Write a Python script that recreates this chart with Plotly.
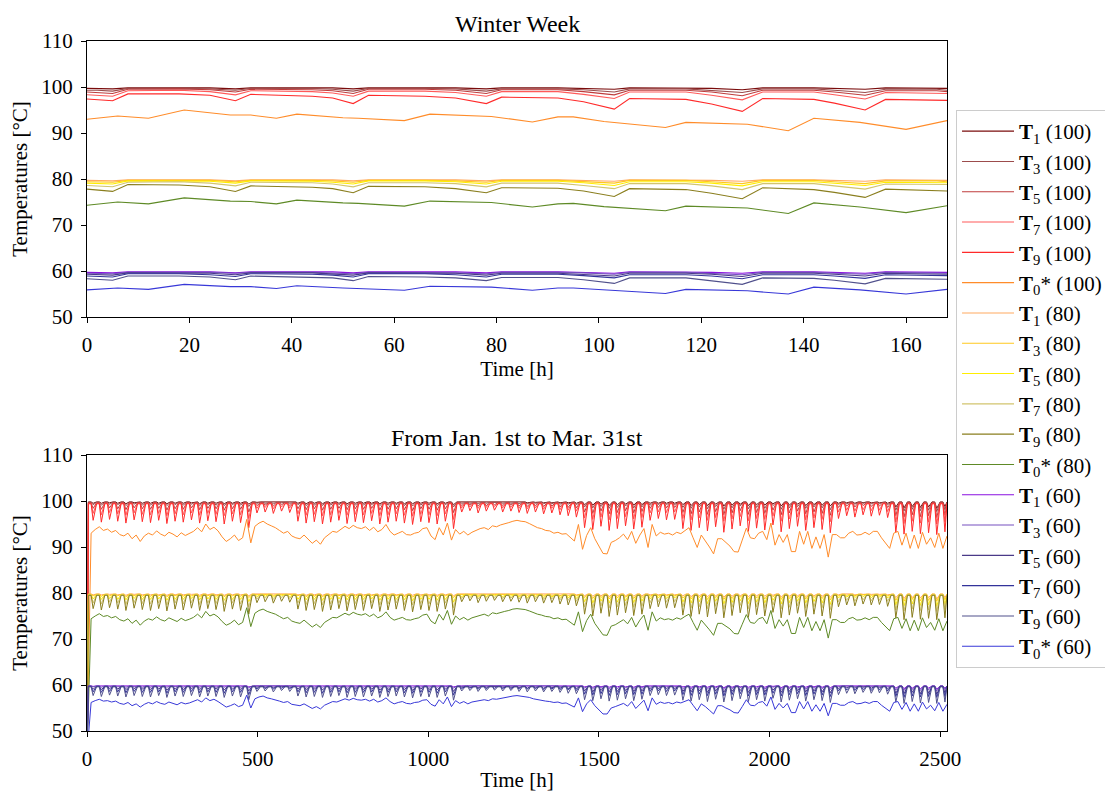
import plotly.graph_objects as go

# ===================== DATA =====================
labels = ["T1 (100)", "T3 (100)", "T5 (100)", "T7 (100)", "T9 (100)", "T0* (100)",
          "T1 (80)", "T3 (80)", "T5 (80)", "T7 (80)", "T9 (80)", "T0* (80)",
          "T1 (60)", "T3 (60)", "T5 (60)", "T7 (60)", "T9 (60)", "T0* (60)"]

# ---- Winter week (top panel) ----
week_t = [0, 2, 5, 8, 18, 24, 29, 32, 44, 48, 52, 55, 66, 72, 78, 81, 92, 97, 103, 106,
          117, 122, 128, 132, 142, 146, 152, 156, 166, 168]
week_t0 = [0, 6, 12, 19, 28, 32, 37, 41, 50, 53, 62, 67, 79, 87, 92, 95, 101, 113, 117,
           129, 137, 142, 151, 160, 168]

wk_T1_100 = [99.7, 99.7, 99.6, 99.8, 99.8, 99.8, 99.6, 99.8, 99.8, 99.8, 99.6, 99.8, 99.8, 99.8, 99.6,
             99.8, 99.8, 99.7, 99.5, 99.8, 99.8, 99.7, 99.4, 99.8, 99.8, 99.7, 99.5, 99.8, 99.8, 99.7]
wk_T3_100 = [99.3, 99.3, 99.1, 99.7, 99.7, 99.6, 99.3, 99.7, 99.7, 99.5, 99.1, 99.7, 99.7, 99.6, 99.1,
             99.6, 99.6, 99.4, 98.9, 99.6, 99.6, 99.3, 98.8, 99.6, 99.6, 99.3, 98.8, 99.5, 99.5, 99.3]
wk_T5_100 = [98.9, 98.8, 98.6, 99.5, 99.6, 99.4, 98.9, 99.5, 99.4, 99.2, 98.6, 99.5, 99.5, 99.3, 98.6,
             99.4, 99.4, 99.0, 98.3, 99.3, 99.3, 98.9, 98.1, 99.3, 99.3, 98.9, 98.2, 99.2, 99.2, 99.0]
wk_T7_100 = [98.3, 98.2, 98.0, 99.2, 99.3, 99.0, 98.3, 99.2, 99.0, 98.7, 98.0, 99.1, 99.1, 98.8, 98.0,
             99.0, 99.0, 98.4, 97.5, 98.9, 98.9, 98.2, 97.2, 98.9, 98.9, 98.3, 97.4, 98.8, 98.7, 98.6]
wk_T9_100 = [97.4, 97.3, 97.0, 98.5, 98.5, 98.2, 97.0, 98.4, 98.0, 97.6, 96.4, 98.2, 98.0, 97.6, 96.4,
             97.8, 97.6, 96.8, 95.2, 97.5, 97.3, 96.3, 94.7, 97.5, 97.3, 96.5, 95.0, 97.3, 97.1, 97.1]
wk_T0_100 = [93.0, 93.7, 93.2, 95.0, 93.9, 93.9, 93.2, 94.1, 93.3, 93.2, 92.7, 94.1, 93.6, 92.4, 93.5,
             93.5, 92.5, 91.2, 92.3, 91.9, 90.5, 93.2, 92.3, 90.8, 92.7]

wk_T1_80 = [79.7, 79.7, 79.6, 79.8, 79.8, 79.8, 79.6, 79.8, 79.8, 79.8, 79.6, 79.8, 79.8, 79.8, 79.6,
            79.8, 79.8, 79.7, 79.5, 79.8, 79.8, 79.7, 79.5, 79.8, 79.8, 79.7, 79.5, 79.8, 79.8, 79.7]
wk_T3_80 = [79.4, 79.4, 79.3, 79.7, 79.7, 79.7, 79.4, 79.7, 79.7, 79.6, 79.3, 79.7, 79.7, 79.6, 79.3,
            79.7, 79.7, 79.5, 79.1, 79.7, 79.7, 79.4, 79.0, 79.7, 79.7, 79.4, 79.0, 79.6, 79.6, 79.4]
wk_T5_80 = [79.1, 79.0, 78.9, 79.6, 79.6, 79.5, 79.1, 79.6, 79.5, 79.3, 78.9, 79.6, 79.6, 79.4, 78.9,
            79.5, 79.5, 79.2, 78.6, 79.4, 79.4, 79.1, 78.5, 79.4, 79.4, 79.1, 78.6, 79.3, 79.3, 79.2]
wk_T7_80 = [78.6, 78.5, 78.3, 79.3, 79.4, 79.1, 78.5, 79.3, 79.2, 78.9, 78.3, 79.2, 79.2, 79.0, 78.3,
            79.1, 79.1, 78.6, 77.9, 79.0, 79.0, 78.5, 77.7, 79.0, 79.0, 78.5, 77.8, 78.9, 78.9, 78.8]
wk_T9_80 = [77.8, 77.6, 77.3, 78.8, 78.7, 78.3, 77.3, 78.5, 78.2, 77.9, 77.0, 78.4, 78.3, 77.9, 77.0,
            78.1, 78.0, 77.4, 76.2, 77.9, 77.7, 76.9, 75.7, 78.1, 77.7, 77.1, 76.0, 77.8, 77.5, 77.4]
wk_T0_80 = [74.3, 75.0, 74.6, 75.9, 75.2, 75.1, 74.6, 75.4, 74.8, 74.7, 74.1, 75.2, 74.9, 73.9, 74.6,
            74.7, 74.0, 73.1, 74.1, 73.7, 72.5, 74.8, 73.9, 72.7, 74.2]

wk_T1_60 = [59.7, 59.7, 59.6, 59.8, 59.8, 59.8, 59.6, 59.8, 59.8, 59.8, 59.6, 59.8, 59.8, 59.8, 59.6,
            59.8, 59.8, 59.7, 59.5, 59.8, 59.8, 59.7, 59.5, 59.8, 59.8, 59.7, 59.5, 59.8, 59.8, 59.7]
wk_T3_60 = [59.5, 59.5, 59.4, 59.7, 59.7, 59.7, 59.5, 59.7, 59.7, 59.6, 59.4, 59.7, 59.7, 59.6, 59.4,
            59.7, 59.7, 59.6, 59.3, 59.7, 59.7, 59.5, 59.2, 59.7, 59.7, 59.5, 59.3, 59.7, 59.6, 59.5]
wk_T5_60 = [59.3, 59.2, 59.1, 59.6, 59.6, 59.5, 59.2, 59.6, 59.6, 59.4, 59.1, 59.6, 59.6, 59.5, 59.1,
            59.5, 59.5, 59.3, 58.9, 59.5, 59.5, 59.3, 58.8, 59.5, 59.5, 59.3, 58.9, 59.5, 59.4, 59.3]
wk_T7_60 = [58.9, 58.8, 58.7, 59.4, 59.4, 59.2, 58.8, 59.4, 59.3, 59.1, 58.7, 59.4, 59.4, 59.2, 58.7,
            59.3, 59.3, 59.0, 58.5, 59.2, 59.2, 58.9, 58.3, 59.2, 59.2, 58.9, 58.4, 59.2, 59.1, 59.0]
wk_T9_60 = [58.3, 58.2, 58.0, 58.9, 58.9, 58.7, 58.1, 58.9, 58.7, 58.5, 57.9, 58.8, 58.7, 58.5, 57.9,
            58.6, 58.6, 58.1, 57.3, 58.5, 58.5, 57.9, 57.1, 58.5, 58.4, 58.0, 57.2, 58.4, 58.3, 58.2]
wk_T0_60 = [55.9, 56.3, 56.0, 57.1, 56.6, 56.6, 56.2, 56.8, 56.3, 56.2, 55.8, 56.7, 56.5, 55.8, 56.3,
            56.3, 55.9, 55.1, 56.0, 55.7, 55.0, 56.5, 55.9, 55.0, 56.0]

# ---- Jan 1st to Mar 31st (bottom panel) ----
bot_start = 45.0          # initial temperature (below axis)
bot_end_hour = 2520
# daily plateau values (T1, T3, T5, T7, T9)
bot_top_100 = [99.8, 99.7, 99.6, 99.5, 99.4]
bot_top_80 = [79.8, 79.7, 79.7, 79.6, 79.5]
bot_top_60 = [59.8, 59.8, 59.7, 59.7, 59.6]

# daily minima, one per day
bot_T1_100 = [99.5, 99.5, 99.6, 99.5, 99.4, 99.6, 99.5, 99.5, 99.5, 99.4, 99.5, 99.5, 99.6, 99.4, 99.5,
              99.5, 99.4, 99.5, 99.5, 99.3, 99.7, 99.7, 99.7, 99.7, 99.7, 99.5, 99.4, 99.5, 99.4, 99.5,
              99.5, 99.4, 99.5, 99.5, 99.5, 99.4, 99.5, 99.5, 99.4, 99.4, 99.5, 99.5, 99.4, 99.5, 99.2,
              99.7, 99.7, 99.7, 99.7, 99.7, 99.7, 99.7, 99.7, 99.6, 99.7, 99.6, 99.6, 99.6, 99.6, 99.5,
              99.2, 99.1, 99.3, 99.0, 99.2, 99.3, 99.1, 99.2, 99.5, 99.5, 99.5, 99.5, 99.2, 99.0, 99.2,
              99.0, 99.3, 98.9, 99.1, 99.3, 99.0, 99.2, 99.1, 99.4, 98.9, 99.1, 99.3, 99.0, 99.2, 99.1,
              98.9, 99.5, 99.6, 99.5, 99.6, 99.6, 99.6, 99.5, 98.7, 98.5, 98.8, 98.6, 98.7, 98.4, 98.8]
bot_T3_100 = [99.2, 99.1, 99.3, 99.2, 99.0, 99.3, 99.1, 99.1, 99.2, 99.0, 99.2, 99.1, 99.3, 99.0, 99.2,
              99.1, 99.0, 99.2, 99.1, 98.8, 99.5, 99.5, 99.4, 99.6, 99.5, 99.2, 99.0, 99.1, 99.0, 99.1,
              99.2, 99.0, 99.1, 99.1, 99.2, 99.0, 99.1, 99.2, 99.0, 98.9, 99.1, 99.1, 99.0, 99.2, 98.7,
              99.5, 99.5, 99.4, 99.5, 99.6, 99.5, 99.5, 99.4, 99.4, 99.5, 99.4, 99.4, 99.3, 99.3, 99.2,
              98.7, 98.5, 98.8, 98.4, 98.6, 98.9, 98.5, 98.7, 99.1, 99.2, 99.2, 99.2, 98.6, 98.4, 98.7,
              98.3, 98.8, 98.2, 98.5, 98.9, 98.3, 98.6, 98.4, 99.0, 98.2, 98.5, 98.8, 98.4, 98.7, 98.5,
              98.1, 99.2, 99.4, 99.3, 99.5, 99.4, 99.4, 99.2, 98.0, 97.8, 98.2, 97.9, 98.0, 97.7, 98.1]
bot_T5_100 = [98.4, 98.2, 98.5, 98.3, 98.1, 98.5, 98.3, 98.2, 98.4, 98.0, 98.3, 98.2, 98.5, 98.1, 98.4,
              98.3, 98.0, 98.3, 98.2, 97.6, 99.0, 99.1, 98.9, 99.2, 99.0, 98.3, 98.1, 98.3, 98.0, 98.2,
              98.4, 98.1, 98.3, 98.2, 98.4, 98.0, 98.2, 98.3, 98.1, 97.9, 98.3, 98.2, 98.0, 98.3, 97.5,
              99.0, 99.1, 98.9, 99.0, 99.2, 99.0, 99.1, 98.9, 98.8, 99.0, 98.8, 98.9, 98.7, 98.6, 98.5,
              97.6, 97.3, 97.8, 97.2, 97.5, 97.9, 97.4, 97.7, 98.4, 98.6, 98.5, 98.6, 97.5, 97.2, 97.6,
              97.1, 97.7, 97.0, 97.4, 97.9, 97.1, 97.5, 97.3, 98.0, 97.0, 97.4, 97.8, 97.2, 97.6, 97.3,
              96.9, 98.6, 98.9, 98.7, 99.0, 98.8, 98.9, 98.6, 96.8, 96.5, 97.0, 96.6, 96.8, 96.4, 96.9]
bot_T7_100 = [97.3, 97.0, 97.5, 97.2, 96.9, 97.4, 97.1, 97.0, 97.3, 96.8, 97.2, 97.0, 97.4, 96.9, 97.3,
              97.1, 96.8, 97.2, 97.0, 96.2, 98.4, 98.6, 98.3, 98.7, 98.5, 97.2, 96.9, 97.1, 96.8, 97.0,
              97.3, 96.9, 97.1, 97.0, 97.3, 96.8, 97.0, 97.2, 96.9, 96.7, 97.1, 97.0, 96.8, 97.2, 96.0,
              98.5, 98.7, 98.4, 98.6, 98.8, 98.5, 98.6, 98.4, 98.3, 98.5, 98.2, 98.4, 98.1, 98.0, 97.8,
              96.3, 96.0, 96.5, 95.9, 96.2, 96.6, 96.1, 96.4, 97.4, 97.6, 97.5, 97.6, 96.2, 95.9, 96.3,
              95.8, 96.4, 95.6, 96.1, 96.6, 95.7, 96.2, 96.0, 96.7, 95.6, 96.1, 96.5, 95.9, 96.3, 96.0,
              95.5, 97.6, 98.0, 97.8, 98.1, 97.9, 98.0, 97.7, 95.4, 95.1, 95.6, 95.2, 95.4, 95.0, 95.5]
bot_T9_100 = [95.8, 95.4, 96.0, 95.6, 95.2, 95.9, 95.5, 95.3, 95.8, 95.1, 95.6, 95.4, 95.9, 95.2, 95.7,
              95.5, 95.0, 95.6, 95.3, 94.2, 97.4, 97.6, 97.3, 97.8, 97.5, 95.6, 95.2, 95.5, 95.0, 95.4,
              95.8, 95.1, 95.5, 95.3, 95.7, 95.0, 95.4, 95.6, 95.2, 94.9, 95.5, 95.3, 95.0, 95.6, 94.0,
              97.6, 97.9, 97.4, 97.8, 98.0, 97.6, 97.8, 97.5, 97.3, 97.6, 97.2, 97.4, 97.0, 96.8, 96.5,
              94.2, 93.8, 94.5, 93.6, 94.0, 94.6, 93.9, 94.3, 95.8, 96.2, 95.9, 96.0, 94.0, 93.6, 94.2,
              93.5, 94.4, 93.2, 93.9, 94.6, 93.4, 94.1, 93.7, 94.8, 93.3, 94.0, 94.5, 93.6, 94.2, 93.8,
              93.1, 96.2, 96.8, 96.5, 97.0, 96.7, 96.9, 96.4, 93.2, 92.8, 93.4, 92.9, 93.1, 92.7, 93.3]

bot_T1_80 = [79.6, 79.6, 79.7, 79.6, 79.5, 79.7, 79.6, 79.6, 79.6, 79.5, 79.6, 79.6, 79.7, 79.5, 79.6,
             79.6, 79.5, 79.6, 79.6, 79.4, 79.8, 79.8, 79.8, 79.8, 79.8, 79.6, 79.5, 79.6, 79.5, 79.6,
             79.6, 79.5, 79.6, 79.6, 79.6, 79.5, 79.6, 79.6, 79.5, 79.5, 79.6, 79.6, 79.5, 79.6, 79.4,
             79.8, 79.8, 79.8, 79.8, 79.8, 79.8, 79.8, 79.8, 79.7, 79.8, 79.7, 79.7, 79.7, 79.7, 79.6,
             79.4, 79.3, 79.4, 79.2, 79.4, 79.4, 79.3, 79.4, 79.6, 79.6, 79.6, 79.6, 79.4, 79.2, 79.4,
             79.2, 79.4, 79.1, 79.3, 79.4, 79.2, 79.4, 79.3, 79.5, 79.1, 79.3, 79.4, 79.2, 79.4, 79.3,
             79.1, 79.6, 79.7, 79.6, 79.7, 79.7, 79.7, 79.6, 79.0, 78.8, 79.0, 78.9, 79.0, 78.7, 79.0]
bot_T3_80 = [79.4, 79.3, 79.4, 79.4, 79.2, 79.4, 79.3, 79.3, 79.4, 79.2, 79.4, 79.3, 79.4, 79.2, 79.4,
             79.3, 79.2, 79.4, 79.3, 79.0, 79.6, 79.6, 79.5, 79.7, 79.6, 79.4, 79.2, 79.3, 79.2, 79.3,
             79.4, 79.2, 79.3, 79.3, 79.4, 79.2, 79.3, 79.4, 79.2, 79.1, 79.3, 79.3, 79.2, 79.4, 79.0,
             79.6, 79.6, 79.5, 79.6, 79.7, 79.6, 79.6, 79.5, 79.5, 79.6, 79.5, 79.5, 79.4, 79.4, 79.4,
             79.0, 78.8, 79.0, 78.7, 78.9, 79.1, 78.8, 79.0, 79.3, 79.4, 79.4, 79.4, 78.9, 78.7, 79.0,
             78.6, 79.0, 78.6, 78.8, 79.1, 78.6, 78.9, 78.7, 79.2, 78.6, 78.8, 79.0, 78.7, 79.0, 78.8,
             78.5, 79.4, 79.5, 79.4, 79.6, 79.5, 79.5, 79.4, 78.4, 78.2, 78.6, 78.3, 78.4, 78.2, 78.5]
bot_T5_80 = [78.7, 78.6, 78.8, 78.6, 78.5, 78.8, 78.6, 78.6, 78.7, 78.4, 78.6, 78.6, 78.8, 78.5, 78.7,
             78.6, 78.4, 78.6, 78.6, 78.1, 79.2, 79.3, 79.1, 79.4, 79.2, 78.6, 78.5, 78.6, 78.4, 78.6,
             78.7, 78.5, 78.6, 78.6, 78.7, 78.4, 78.6, 78.6, 78.5, 78.3, 78.6, 78.6, 78.4, 78.6, 78.0,
             79.2, 79.3, 79.1, 79.2, 79.4, 79.2, 79.3, 79.1, 79.0, 79.2, 79.0, 79.1, 79.0, 78.9, 78.8,
             78.1, 77.8, 78.2, 77.8, 78.0, 78.3, 77.9, 78.2, 78.7, 78.9, 78.8, 78.9, 78.0, 77.8, 78.1,
             77.7, 78.2, 77.6, 77.9, 78.3, 77.7, 78.0, 77.8, 78.4, 77.6, 77.9, 78.2, 77.8, 78.1, 77.8,
             77.5, 78.9, 79.1, 79.0, 79.2, 79.0, 79.1, 78.9, 77.4, 77.2, 77.6, 77.3, 77.4, 77.1, 77.5]
bot_T7_80 = [77.8, 77.6, 78.0, 77.8, 77.5, 77.9, 77.7, 77.6, 77.8, 77.4, 77.8, 77.6, 77.9, 77.5, 77.8,
             77.7, 77.4, 77.8, 77.6, 77.0, 78.7, 78.9, 78.6, 79.0, 78.8, 77.8, 77.5, 77.7, 77.4, 77.6,
             77.8, 77.5, 77.7, 77.6, 77.8, 77.4, 77.6, 77.8, 77.5, 77.4, 77.7, 77.6, 77.4, 77.8, 76.8,
             78.8, 79.0, 78.7, 78.9, 79.0, 78.8, 78.9, 78.7, 78.6, 78.8, 78.6, 78.7, 78.5, 78.4, 78.2,
             77.0, 76.8, 77.2, 76.7, 77.0, 77.3, 76.9, 77.1, 77.9, 78.1, 78.0, 78.1, 77.0, 76.7, 77.0,
             76.6, 77.1, 76.5, 76.9, 77.3, 76.6, 77.0, 76.8, 77.4, 76.5, 76.9, 77.2, 76.7, 77.0, 76.8,
             76.4, 78.1, 78.4, 78.2, 78.5, 78.3, 78.4, 78.2, 76.3, 76.1, 76.5, 76.2, 76.3, 76.0, 76.4]
bot_T9_80 = [76.6, 76.3, 76.8, 76.5, 76.2, 76.7, 76.4, 76.2, 76.6, 76.1, 76.5, 76.3, 76.7, 76.2, 76.6,
             76.4, 76.0, 76.5, 76.2, 75.4, 77.9, 78.1, 77.8, 78.2, 78.0, 76.5, 76.2, 76.4, 76.0, 76.3,
             76.6, 76.1, 76.4, 76.2, 76.6, 76.0, 76.3, 76.5, 76.2, 75.9, 76.4, 76.2, 76.0, 76.5, 75.2,
             78.1, 78.3, 77.9, 78.2, 78.4, 78.1, 78.2, 78.0, 77.8, 78.1, 77.8, 77.9, 77.6, 77.4, 77.2,
             75.4, 75.0, 75.6, 74.9, 75.2, 75.7, 75.1, 75.4, 76.6, 77.0, 76.7, 76.8, 75.2, 74.9, 75.4,
             74.8, 75.5, 74.6, 75.1, 75.7, 74.7, 75.3, 75.0, 75.8, 74.6, 75.2, 75.6, 74.9, 75.4, 75.0,
             74.5, 77.0, 77.4, 77.2, 77.6, 77.4, 77.5, 77.1, 74.6, 74.2, 74.7, 74.3, 74.5, 74.2, 74.6]

bot_T1_60 = [59.7, 59.7, 59.8, 59.7, 59.7, 59.8, 59.7, 59.7, 59.7, 59.7, 59.7, 59.7, 59.8, 59.7, 59.7,
             59.7, 59.7, 59.7, 59.7, 59.6, 59.8, 59.8, 59.8, 59.8, 59.8, 59.7, 59.7, 59.7, 59.7, 59.7,
             59.7, 59.7, 59.7, 59.7, 59.7, 59.7, 59.7, 59.7, 59.7, 59.7, 59.7, 59.7, 59.7, 59.7, 59.6,
             59.8, 59.8, 59.8, 59.8, 59.8, 59.8, 59.8, 59.8, 59.8, 59.8, 59.8, 59.8, 59.8, 59.8, 59.7,
             59.6, 59.5, 59.6, 59.5, 59.6, 59.6, 59.5, 59.6, 59.7, 59.7, 59.7, 59.7, 59.6, 59.5, 59.6,
             59.5, 59.6, 59.4, 59.5, 59.6, 59.5, 59.6, 59.5, 59.7, 59.4, 59.5, 59.6, 59.5, 59.6, 59.5,
             59.4, 59.7, 59.8, 59.7, 59.8, 59.8, 59.8, 59.7, 59.3, 59.2, 59.3, 59.2, 59.3, 59.1, 59.3]
bot_T3_60 = [59.6, 59.5, 59.6, 59.6, 59.5, 59.6, 59.5, 59.5, 59.6, 59.5, 59.6, 59.5, 59.6, 59.5, 59.6,
             59.5, 59.5, 59.6, 59.5, 59.3, 59.7, 59.7, 59.7, 59.8, 59.7, 59.6, 59.5, 59.5, 59.5, 59.5,
             59.6, 59.5, 59.5, 59.5, 59.6, 59.5, 59.5, 59.6, 59.5, 59.4, 59.5, 59.5, 59.5, 59.6, 59.3,
             59.7, 59.7, 59.7, 59.7, 59.8, 59.7, 59.7, 59.7, 59.7, 59.7, 59.7, 59.7, 59.6, 59.6, 59.6,
             59.3, 59.2, 59.3, 59.1, 59.2, 59.4, 59.2, 59.3, 59.5, 59.6, 59.6, 59.6, 59.2, 59.1, 59.3,
             59.1, 59.3, 59.0, 59.2, 59.4, 59.1, 59.2, 59.1, 59.5, 59.0, 59.2, 59.3, 59.1, 59.3, 59.2,
             59.0, 59.6, 59.7, 59.6, 59.7, 59.7, 59.7, 59.6, 58.9, 58.8, 59.0, 58.8, 58.9, 58.7, 59.0]
bot_T5_60 = [59.1, 59.0, 59.2, 59.1, 59.0, 59.2, 59.1, 59.0, 59.1, 58.9, 59.1, 59.0, 59.2, 59.0, 59.1,
             59.1, 58.9, 59.1, 59.0, 58.7, 59.5, 59.5, 59.4, 59.6, 59.5, 59.1, 59.0, 59.1, 58.9, 59.0,
             59.1, 59.0, 59.1, 59.0, 59.1, 58.9, 59.0, 59.1, 59.0, 58.8, 59.1, 59.0, 58.9, 59.1, 58.6,
             59.5, 59.5, 59.4, 59.5, 59.6, 59.5, 59.5, 59.4, 59.3, 59.5, 59.3, 59.4, 59.3, 59.2, 59.2,
             58.7, 58.5, 58.8, 58.5, 58.6, 58.8, 58.6, 58.7, 59.1, 59.2, 59.2, 59.2, 58.6, 58.5, 58.7,
             58.4, 58.7, 58.4, 58.6, 58.8, 58.4, 58.6, 58.5, 58.9, 58.4, 58.6, 58.8, 58.5, 58.7, 58.5,
             58.3, 59.2, 59.4, 59.3, 59.5, 59.3, 59.4, 59.2, 58.2, 58.1, 58.4, 58.1, 58.2, 58.0, 58.3]
bot_T7_60 = [58.5, 58.4, 58.6, 58.5, 58.3, 58.6, 58.4, 58.4, 58.5, 58.2, 58.5, 58.4, 58.6, 58.3, 58.5,
             58.4, 58.2, 58.5, 58.4, 57.9, 59.1, 59.2, 59.1, 59.3, 59.2, 58.5, 58.3, 58.4, 58.2, 58.4,
             58.5, 58.3, 58.4, 58.4, 58.5, 58.2, 58.4, 58.5, 58.3, 58.2, 58.4, 58.4, 58.2, 58.5, 57.8,
             59.2, 59.3, 59.1, 59.2, 59.3, 59.2, 59.2, 59.1, 59.1, 59.2, 59.0, 59.1, 59.0, 58.9, 58.8,
             58.0, 57.8, 58.1, 57.7, 57.9, 58.1, 57.9, 58.0, 58.6, 58.7, 58.6, 58.7, 57.9, 57.7, 58.0,
             57.7, 58.0, 57.6, 57.9, 58.1, 57.6, 57.9, 57.8, 58.2, 57.6, 57.9, 58.1, 57.7, 58.0, 57.8,
             57.5, 58.7, 58.9, 58.8, 59.0, 58.8, 58.9, 58.7, 57.5, 57.3, 57.6, 57.4, 57.5, 57.3, 57.5]
bot_T9_60 = [57.7, 57.5, 57.8, 57.6, 57.4, 57.7, 57.5, 57.4, 57.7, 57.3, 57.6, 57.5, 57.7, 57.4, 57.6,
             57.5, 57.3, 57.6, 57.4, 56.8, 58.6, 58.7, 58.5, 58.8, 58.6, 57.6, 57.4, 57.5, 57.3, 57.5,
             57.7, 57.3, 57.5, 57.4, 57.6, 57.3, 57.5, 57.6, 57.4, 57.2, 57.5, 57.4, 57.3, 57.6, 56.7,
             58.7, 58.8, 58.6, 58.8, 58.9, 58.7, 58.8, 58.6, 58.5, 58.7, 58.5, 58.6, 58.4, 58.2, 58.1,
             56.8, 56.6, 57.0, 56.5, 56.7, 57.0, 56.6, 56.9, 57.7, 57.9, 57.7, 57.8, 56.7, 56.5, 56.8,
             56.4, 56.9, 56.3, 56.6, 57.0, 56.4, 56.8, 56.5, 57.1, 56.3, 56.7, 57.0, 56.5, 56.8, 56.6,
             56.2, 57.9, 58.2, 58.1, 58.4, 58.2, 58.3, 58.0, 56.3, 56.0, 56.4, 56.1, 56.2, 56.0, 56.3]

# T0* values every 12 h (t = 12, 24, ..., 2520)
bot_T0_100 = [93.0, 93.8, 94.4, 93.6, 93.9, 93.2, 93.6, 92.7, 92.4, 93.0,
              91.8, 92.6, 91.2, 92.4, 93.0, 92.6, 93.5, 92.8, 92.4, 93.2,
              92.8, 92.2, 93.1, 92.5, 92.9, 93.4, 94.2, 93.3, 95.0, 93.8,
              94.3, 93.5, 92.2, 91.2, 91.8, 92.6, 91.4, 92.0, 96.0, 90.9,
              94.5, 95.2, 95.6, 95.0, 94.6, 94.2, 93.6, 93.0, 93.4, 92.4,
              92.0, 91.8, 92.6, 91.6, 90.8, 91.5, 90.6, 92.0, 92.8, 93.4,
              93.2, 93.9, 94.5, 94.0, 94.7, 94.2, 94.0, 94.4, 93.6, 94.3,
              93.3, 93.8, 94.9, 93.4, 92.6, 93.0, 93.4, 92.7, 92.6, 93.0,
              93.2, 94.0, 94.2, 92.4, 91.6, 94.2, 92.6, 95.2, 91.5, 93.8,
              92.8, 93.4, 92.6, 93.2, 93.6, 94.0, 94.2, 93.8, 94.6, 94.4,
              94.8, 95.0, 95.3, 95.6, 95.8, 95.6, 95.5, 95.1, 94.6, 94.2,
              94.0, 93.6, 93.5, 93.0, 93.2, 92.8, 92.9, 92.0, 91.3, 94.9,
              89.5, 92.5, 94.2, 91.8, 90.2, 88.6, 88.5, 91.0, 91.4, 92.0,
              92.8, 91.6, 93.4, 90.8, 92.6, 94.0, 89.9, 94.9, 92.4, 93.2,
              92.8, 93.0, 92.6, 93.2, 92.9, 93.6, 94.2, 92.0, 89.9, 92.6,
              91.4, 90.0, 88.5, 91.8, 91.8, 91.0, 90.2, 89.0, 88.9, 91.5,
              94.1, 92.0, 91.8, 93.0, 93.4, 91.6, 95.2, 90.4, 92.7, 91.0,
              92.7, 89.0, 89.0, 93.4, 90.6, 93.4, 89.7, 92.2, 89.7, 92.7,
              87.8, 92.7, 92.7, 92.0, 92.0, 93.0, 93.4, 92.6, 92.7, 93.2,
              92.7, 93.4, 93.4, 92.0, 90.8, 89.7, 93.0, 93.4, 90.4, 93.0,
              89.7, 92.6, 89.7, 93.2, 90.6, 92.0, 89.9, 93.0, 89.7, 92.4]
bot_T0_80 = [74.4, 75.0, 75.5, 74.9, 75.1, 74.6, 74.9, 74.2, 73.9, 74.4,
             73.4, 74.1, 73.0, 73.9, 74.4, 74.1, 74.8, 74.2, 73.9, 74.6,
             74.2, 73.8, 74.5, 74.0, 74.3, 74.7, 75.4, 74.6, 76.0, 75.0,
             75.4, 74.8, 73.8, 73.0, 73.4, 74.1, 73.1, 73.6, 76.8, 72.7,
             75.6, 76.2, 76.5, 76.0, 75.7, 75.4, 74.9, 74.4, 74.7, 73.9,
             73.6, 73.4, 74.1, 73.3, 72.6, 73.2, 72.5, 73.6, 74.2, 74.7,
             74.6, 75.1, 75.6, 75.2, 75.8, 75.4, 75.2, 75.5, 74.9, 75.4,
             74.6, 75.0, 75.9, 74.7, 74.1, 74.4, 74.7, 74.2, 74.1, 74.4,
             74.6, 75.2, 75.4, 73.9, 73.3, 75.4, 74.1, 76.2, 73.2, 75.0,
             74.2, 74.7, 74.1, 74.6, 74.9, 75.2, 75.4, 75.0, 75.7, 75.5,
             75.8, 76.0, 76.2, 76.5, 76.6, 76.5, 76.4, 76.1, 75.7, 75.4,
             75.2, 74.9, 74.8, 74.4, 74.6, 74.2, 74.3, 73.6, 73.0, 75.9,
             71.6, 74.0, 75.4, 73.4, 72.2, 70.9, 70.8, 72.8, 73.1, 73.6,
             74.2, 73.3, 74.7, 72.6, 74.1, 75.2, 71.9, 75.9, 73.9, 74.6,
             74.2, 74.4, 74.1, 74.6, 74.3, 74.9, 75.4, 73.6, 71.9, 74.1,
             73.1, 72.0, 70.8, 73.4, 73.4, 72.8, 72.2, 71.2, 71.1, 73.2,
             75.3, 73.6, 73.4, 74.4, 74.7, 73.3, 76.2, 72.3, 74.2, 72.8,
             74.2, 71.2, 71.2, 74.7, 72.5, 74.7, 71.8, 73.8, 71.8, 74.2,
             70.2, 74.2, 74.2, 73.6, 73.6, 74.4, 74.7, 74.1, 74.2, 74.6,
             74.2, 74.7, 74.7, 73.6, 72.6, 71.8, 74.4, 74.7, 72.3, 74.4,
             71.8, 74.1, 71.8, 74.6, 72.5, 73.6, 71.9, 74.4, 71.8, 73.9]
bot_T0_60 = [56.2, 56.6, 56.9, 56.5, 56.6, 56.3, 56.5, 56.0, 55.8, 56.2,
             55.5, 55.9, 55.2, 55.8, 56.2, 55.9, 56.4, 56.0, 55.8, 56.3,
             56.0, 55.7, 56.2, 55.9, 56.1, 56.4, 56.8, 56.3, 57.2, 56.6,
             56.9, 56.4, 55.7, 55.2, 55.5, 55.9, 55.3, 55.6, 57.8, 55.0,
             57.0, 57.4, 57.6, 57.2, 57.0, 56.8, 56.5, 56.2, 56.4, 55.8,
             55.6, 55.5, 55.9, 55.4, 54.9, 55.3, 54.8, 55.6, 56.0, 56.4,
             56.3, 56.6, 57.0, 56.7, 57.1, 56.8, 56.7, 56.9, 56.5, 56.9,
             56.3, 56.6, 57.2, 56.4, 55.9, 56.2, 56.4, 56.0, 55.9, 56.2,
             56.3, 56.7, 56.8, 55.8, 55.4, 56.8, 55.9, 57.4, 55.3, 56.6,
             56.0, 56.4, 55.9, 56.3, 56.5, 56.7, 56.8, 56.6, 57.0, 56.9,
             57.1, 57.2, 57.4, 57.6, 57.7, 57.6, 57.5, 57.3, 57.0, 56.8,
             56.7, 56.5, 56.4, 56.2, 56.3, 56.0, 56.1, 55.6, 55.2, 57.2,
             54.2, 55.9, 56.8, 55.5, 54.6, 53.7, 53.7, 55.0, 55.3, 55.6,
             56.0, 55.4, 56.4, 54.9, 55.9, 56.7, 54.4, 57.2, 55.8, 56.3,
             56.0, 56.2, 55.9, 56.3, 56.1, 56.5, 56.8, 55.6, 54.4, 55.9,
             55.3, 54.5, 53.7, 55.5, 55.5, 55.0, 54.6, 54.0, 53.9, 55.3,
             56.8, 55.6, 55.5, 56.2, 56.4, 55.4, 57.4, 54.7, 56.0, 55.0,
             56.0, 54.0, 54.0, 56.4, 54.8, 56.4, 54.3, 55.7, 54.3, 56.0,
             53.3, 56.0, 56.0, 55.6, 55.6, 56.2, 56.4, 55.9, 56.0, 56.3,
             56.0, 56.4, 56.4, 55.6, 54.9, 54.3, 56.2, 56.4, 54.7, 56.2,
             54.3, 55.9, 54.3, 56.3, 54.8, 55.6, 54.4, 56.2, 54.3, 55.8]

# ===================== STYLE =====================
colors = ["#7a0c0c", "#9c4c4c", "#bf3c3c", "#ff5a5a", "#ff2a2a", "#ff8c2a",
          "#ffaa60", "#ffc81e", "#ffee00", "#d2c46e", "#8a7e1e", "#5e8a26",
          "#8a10e0", "#7650c0", "#4a3a88", "#33339a", "#50508c", "#3838d8"]
FONT = "Liberation Serif, Times New Roman, serif"

week_series = [wk_T1_100, wk_T3_100, wk_T5_100, wk_T7_100, wk_T9_100, wk_T0_100,
               wk_T1_80, wk_T3_80, wk_T5_80, wk_T7_80, wk_T9_80, wk_T0_80,
               wk_T1_60, wk_T3_60, wk_T5_60, wk_T7_60, wk_T9_60, wk_T0_60]
bot_lows = [bot_T1_100, bot_T3_100, bot_T5_100, bot_T7_100, bot_T9_100, bot_T0_100,
            bot_T1_80, bot_T3_80, bot_T5_80, bot_T7_80, bot_T9_80, bot_T0_80,
            bot_T1_60, bot_T3_60, bot_T5_60, bot_T7_60, bot_T9_60, bot_T0_60]
bot_tops = bot_top_100 + [None] + bot_top_80 + [None] + bot_top_60 + [None]


def legend_html(lbl):
    name, grp = lbl.split(" ")
    sub = name[1]
    star = "*" if name.endswith("*") else ""
    return "<b>T</b><sub>%s</sub>%s %s" % (sub, star, grp)


def daily_comb(top, lows):
    xs, ys = [0], [bot_start]
    for d, lo in enumerate(lows):
        xs += [24 * d + 4, 24 * d + 12, 24 * d + 18]
        ys += [top, top, lo]
    xs.append(bot_end_hour)
    ys.append(top)
    return xs, ys


fig = go.Figure()
for i, lbl in enumerate(labels):
    is_t0 = lbl.startswith("T0")
    tx = week_t0 if is_t0 else week_t
    fig.add_trace(go.Scatter(x=tx, y=week_series[i], mode="lines", name=legend_html(lbl),
                             legendgroup=lbl, line=dict(color=colors[i], width=1.1),
                             xaxis="x", yaxis="y"))
    if is_t0:
        bx = [0] + [12 * (k + 1) for k in range(len(bot_lows[i]))]
        by = [bot_start] + bot_lows[i]
    else:
        bx, by = daily_comb(bot_tops[i], bot_lows[i])
    fig.add_trace(go.Scatter(x=bx, y=by, mode="lines", name=legend_html(lbl),
                             legendgroup=lbl, showlegend=False,
                             line=dict(color=colors[i], width=1.0),
                             xaxis="x2", yaxis="y2"))

axis_common = dict(showline=True, linecolor="black", linewidth=1.2, mirror=True,
                   ticks="outside", ticklen=5, tickcolor="black", showgrid=False,
                   zeroline=False, automargin=False, ticklabelstandoff=4,
                   tickfont=dict(family=FONT, size=21, color="black"),
                   title_font=dict(family=FONT, size=21, color="black"))

# the page body adds an 8 px offset; margins compensate so the plot areas land
# at x 87-947, y 41-317 and 455-731 in the 1113x797 window
fig.update_layout(
    width=1113, height=797,
    margin=dict(l=79, r=174, t=33, b=74, autoexpand=False),
    paper_bgcolor="white", plot_bgcolor="white",
    font=dict(family=FONT, color="black"),
    xaxis=dict(domain=[0, 1], anchor="y", range=[0, 168], tick0=0, dtick=20,
               title=dict(text="Time [h]", standoff=2), **axis_common),
    yaxis=dict(domain=[0.6, 1], anchor="x", range=[50, 110], dtick=10,
               title=dict(text="Temperatures [°C]", standoff=8), **axis_common),
    xaxis2=dict(domain=[0, 1], anchor="y2", range=[0, 2520], tick0=0, dtick=500,
                title=dict(text="Time [h]", standoff=2), **axis_common),
    yaxis2=dict(domain=[0, 0.4], anchor="x2", range=[50, 110], dtick=10,
                title=dict(text="Temperatures [°C]", standoff=8), **axis_common),
    legend=dict(x=1.0105, xanchor="left", y=0.9, yanchor="top",
                bgcolor="white", bordercolor="#cccccc", borderwidth=1,
                font=dict(family=FONT, size=21, color="black"),
                tracegroupgap=0, itemwidth=52),
    annotations=[
        dict(text="Winter Week", xref="paper", yref="paper", x=0.5, y=1.0,
             yanchor="bottom", showarrow=False, yshift=2,
             font=dict(family=FONT, size=24, color="black")),
        dict(text="From Jan. 1st to Mar. 31st", xref="paper", yref="paper", x=0.5, y=0.4,
             yanchor="bottom", showarrow=False, yshift=2,
             font=dict(family=FONT, size=24, color="black")),
    ],
)

fig.write_html("out.html")
